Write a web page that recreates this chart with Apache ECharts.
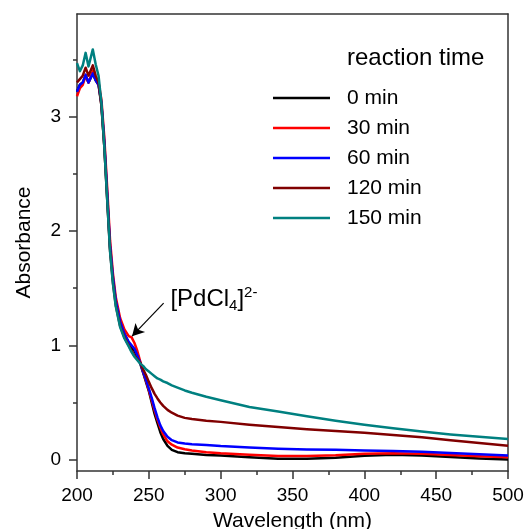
<!DOCTYPE html>
<html><head><meta charset="utf-8">
<script src="https://cdn.jsdelivr.net/npm/echarts@6/dist/echarts.min.js"></script>
<style>html,body{margin:0;padding:0;background:#fff}#c{width:525px;height:529px}</style>
</head><body><div id="c"></div>
<script>
const wavelengths = [200,202,204,206,208,211,213,215,217,219,221,223,225,227,230,233,236,238,240,242,244,246,248,250,252,254,256,258,260,263,266,270,275,280,290,300,320,340,360,380,400,420,440,460,480,500];
const min0 = [3.22,3.28,3.30,3.36,3.30,3.38,3.32,3.28,3.10,2.75,2.30,1.85,1.58,1.38,1.20,1.10,1.02,0.98,0.95,0.90,0.84,0.76,0.68,0.60,0.50,0.40,0.32,0.24,0.18,0.12,0.085,0.065,0.055,0.05,0.04,0.035,0.02,0.008,0.008,0.017,0.033,0.043,0.035,0.022,0.01,0.0];
const min30 = [3.18,3.25,3.28,3.36,3.30,3.40,3.33,3.30,3.15,2.82,2.38,1.92,1.63,1.42,1.24,1.14,1.08,1.07,1.02,0.95,0.86,0.77,0.69,0.61,0.52,0.43,0.35,0.28,0.22,0.16,0.13,0.105,0.09,0.08,0.065,0.055,0.042,0.032,0.032,0.037,0.052,0.055,0.05,0.04,0.03,0.02];
const min60 = [3.22,3.28,3.30,3.37,3.30,3.38,3.32,3.28,3.12,2.78,2.33,1.87,1.60,1.39,1.21,1.10,1.03,1.00,0.97,0.91,0.85,0.77,0.70,0.62,0.54,0.45,0.37,0.30,0.25,0.20,0.17,0.15,0.14,0.135,0.128,0.118,0.105,0.095,0.088,0.085,0.08,0.075,0.068,0.058,0.047,0.035];
const min120 = [3.30,3.33,3.36,3.43,3.36,3.45,3.36,3.30,3.10,2.74,2.28,1.83,1.55,1.35,1.17,1.07,1.00,0.95,0.91,0.88,0.85,0.79,0.74,0.68,0.625,0.575,0.535,0.50,0.47,0.435,0.41,0.385,0.365,0.355,0.34,0.33,0.305,0.285,0.265,0.25,0.235,0.215,0.195,0.17,0.145,0.122];
const min150 = [3.47,3.40,3.45,3.56,3.44,3.59,3.46,3.36,3.12,2.74,2.28,1.82,1.54,1.34,1.16,1.06,0.99,0.94,0.90,0.87,0.84,0.82,0.79,0.77,0.75,0.73,0.71,0.70,0.685,0.67,0.65,0.63,0.605,0.585,0.55,0.52,0.46,0.42,0.38,0.34,0.305,0.275,0.245,0.22,0.20,0.18];
const seriesNames = ['0 min','30 min','60 min','120 min','150 min'];
const seriesValues = [min0, min30, min60, min120, min150];
const seriesColors = ['#000000','#ff0000','#0000ff','#800000','#008080'];
const yMajorTicks = [0,1,2,3];
const yMinorTicks = [0.5,1.5,2.5,3.5];
const arrowFrom = [260.3, 1.37];
const arrowTo = [238.3, 1.08];
const labelAt = [265, 1.40];

const font = 'Liberation Sans, Arial, sans-serif';
const chart = echarts.init(document.getElementById('c'), null, {renderer:'canvas'});

const series = seriesNames.map((name, k) => ({
  name, type:'line', showSymbol:false, symbol:'none', smooth:false,
  lineStyle:{color:seriesColors[k], width:2.5, join:'round'}, itemStyle:{color:seriesColors[k]},
  data: wavelengths.map((w,i)=>[w, seriesValues[k][i]]),
  z: 2 + k
}));
series[4].markLine = {
  silent:true, symbol:['none','arrow'], symbolSize:[10,12],
  lineStyle:{color:'#000', width:1.2, type:'solid'}, label:{show:false},
  data:[[{coord:arrowFrom},{coord:arrowTo}]]
};
series[4].markPoint = {
  silent:true, symbol:'circle', symbolSize:0,
  data:[{coord:labelAt}],
  label:{show:true, position:'inside', align:'left', verticalAlign:'middle',
    formatter:'{b|[PdCl}{sub|4}{b|]}{sup|2-}',
    rich:{
      b:{fontFamily:font, fontSize:24, color:'#000'},
      sub:{fontFamily:font, fontSize:15, color:'#000', padding:[12,0,0,0]},
      sup:{fontFamily:font, fontSize:15, color:'#000', padding:[0,0,14,0]}
    }}
};

const boxLine = {show:true, onZero:false, lineStyle:{color:'#333', width:1.5}};
chart.setOption({
  animation:false,
  backgroundColor:'#fff',
  grid:{left:77, right:17, top:14, bottom:58, show:false, outerBoundsMode:'none'},
  title:{text:'reaction time', left:347, top:46, padding:0,
    textStyle:{fontFamily:font, fontSize:24, fontWeight:'normal', color:'#000'}},
  legend:{orient:'vertical', left:273, top:86, itemWidth:57, itemHeight:14, itemGap:6, padding:0,
    textStyle:{fontFamily:font, fontSize:21, color:'#000', lineHeight:24, padding:[0,0,0,12]},
    data:seriesNames.map((n)=>({name:n, icon:'path://M0,6 L57,6 L57,8.5 L0,8.5 Z'}))},
  xAxis:[{type:'value', min:200, max:500, interval:50, position:'bottom',
    name:'Wavelength (nm)', nameLocation:'middle', nameGap:37,
    nameTextStyle:{fontFamily:font, fontSize:21, color:'#000', lineHeight:22},
    axisLine:boxLine,
    axisTick:{show:true, inside:false, length:8, lineStyle:{color:'#333', width:1.5}},
    minorTick:{show:true, splitNumber:2, length:4, lineStyle:{color:'#333', width:1.5}},
    axisLabel:{fontFamily:font, fontSize:19, color:'#000', margin:15},
    splitLine:{show:false}, minorSplitLine:{show:false}},
   {type:'value', min:200, max:500, interval:50, position:'top',
    axisLine:boxLine, axisTick:{show:false}, axisLabel:{show:false}, splitLine:{show:false}}],
  yAxis:[{type:'value', min:-0.1, max:3.9, position:'left',
    name:'Absorbance', nameLocation:'middle', nameGap:42,
    nameTextStyle:{fontFamily:font, fontSize:21, color:'#000'},
    axisLine:boxLine,
    axisTick:{show:true, inside:false, length:8, customValues:yMajorTicks, lineStyle:{color:'#333', width:1.5}},
    axisLabel:{fontFamily:font, fontSize:19, color:'#000', margin:16, customValues:yMajorTicks},
    splitLine:{show:false}},
   {type:'value', min:-0.1, max:3.9, position:'left', offset:0,
    axisLine:{show:false}, axisLabel:{show:false}, splitLine:{show:false},
    axisTick:{show:true, inside:false, length:4, customValues:yMinorTicks, lineStyle:{color:'#333', width:1.5}}},
   {type:'value', min:-0.1, max:3.9, position:'right',
    axisLine:boxLine, axisTick:{show:false}, axisLabel:{show:false}, splitLine:{show:false}}],
  series
});
</script></body></html>
